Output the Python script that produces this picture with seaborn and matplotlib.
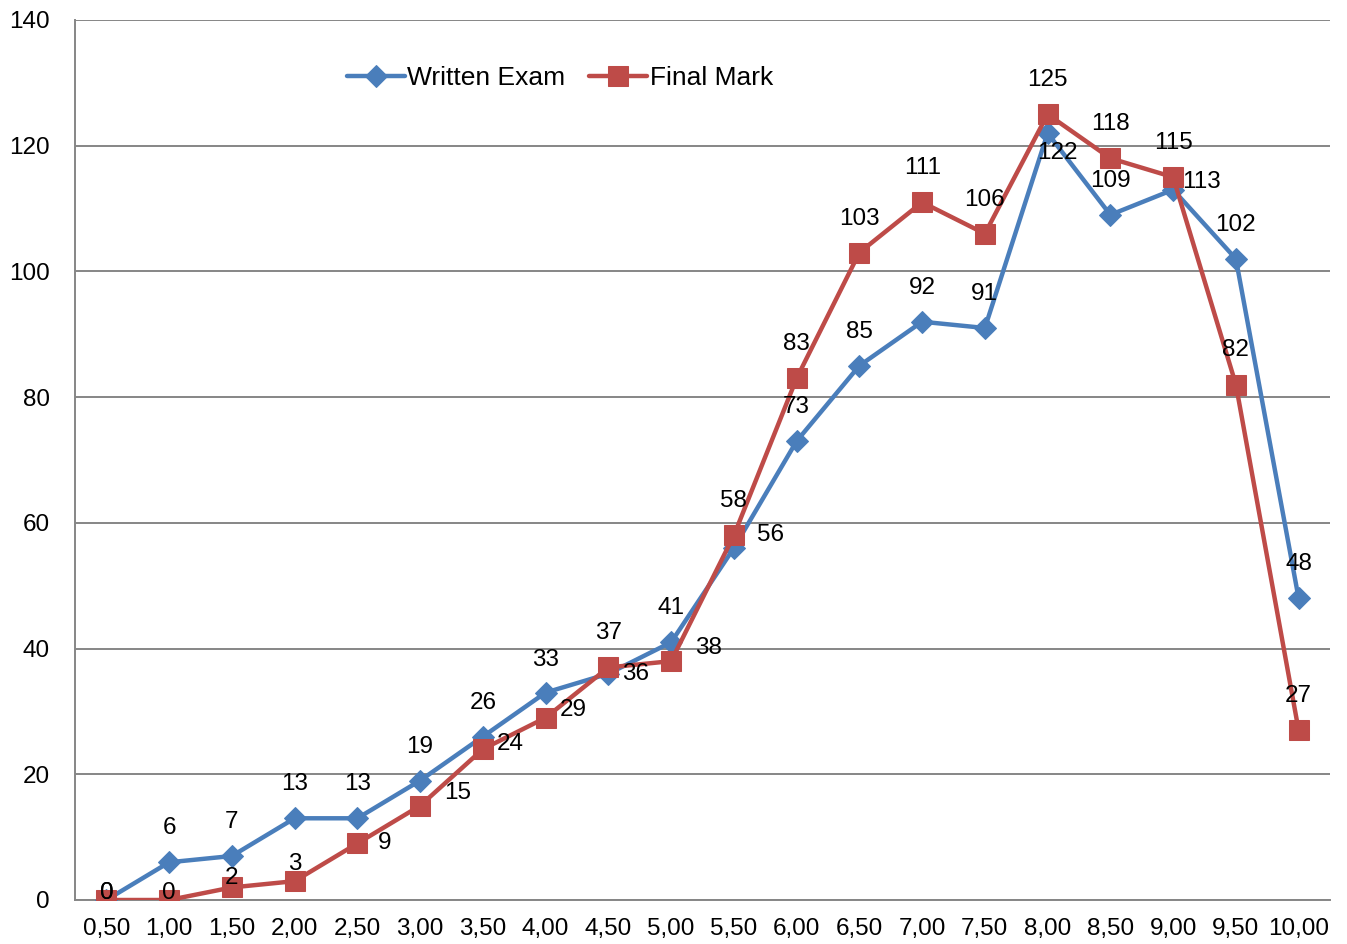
import matplotlib
matplotlib.use('Agg')
import matplotlib.pyplot as plt
import pandas as pd
import seaborn as sns

# ======== Data ========
marks = ['0,50', '1,00', '1,50', '2,00', '2,50', '3,00', '3,50', '4,00', '4,50', '5,00',
         '5,50', '6,00', '6,50', '7,00', '7,50', '8,00', '8,50', '9,00', '9,50', '10,00']
written_exam = [0, 6, 7, 13, 13, 19, 26, 33, 36, 41, 56, 73, 85, 92, 91, 122, 109, 113, 102, 48]
final_mark = [0, 0, 2, 3, 9, 15, 24, 29, 37, 38, 58, 83, 103, 111, 106, 125, 118, 115, 82, 27]

# label offsets in pixels (dx, dy), like the Excel original
off_written = [(0, 7), (0, 34), (0, 34), (0, 34), (0, 34), (0, 34), (0, 34), (0, 33), (27, 0), (0, 34),
               (37, 13), (0, 34), (0, 34), (0, 34), (0, 34), (10, -20), (0, 34), (28, 8), (0, 34), (0, 34)]
off_final = [(0, 7), (0, 7), (0, 9), (0, 17), (27, 0), (37, 13), (27, 5), (28, 8), (0, 34), (37, 13),
             (0, 34), (0, 34), (0, 34), (0, 34), (0, 34), (0, 34), (0, 34), (0, 34), (0, 35), (0, 34)]

BLUE = '#4A7EBB'
RED = '#BE4B48'
GRID = '#868686'
FS = 17.5

sns.set_style('white')
plt.rcParams['font.family'] = ['Liberation Sans', 'DejaVu Sans']
plt.rcParams['text.color'] = 'black'
plt.rcParams['xtick.labelcolor'] = 'black'
plt.rcParams['ytick.labelcolor'] = 'black'

df = pd.DataFrame({'pos': range(len(marks)), 'written': written_exam, 'final': final_mark})

fig = plt.figure(figsize=(13.47, 9.44), dpi=100)
ax = fig.add_axes([75 / 1347, 1 - 900 / 944, (1330 - 75) / 1347, 880 / 944])

sns.lineplot(data=df, x='pos', y='written', ax=ax, color=BLUE, linewidth=3.2,
             marker='D', markersize=11.5, markeredgecolor=BLUE, label='Written Exam', zorder=3)
sns.lineplot(data=df, x='pos', y='final', ax=ax, color=RED, linewidth=3.2,
             marker='s', markersize=14, markeredgecolor=RED, label='Final Mark', zorder=4)

for i, (v, o) in enumerate(zip(written_exam, off_written)):
    ax.annotate(str(v), (i, v), xytext=o, textcoords='offset pixels',
                ha='center', va='center', fontsize=FS, zorder=5)
for i, (v, o) in enumerate(zip(final_mark, off_final)):
    ax.annotate(str(v), (i, v), xytext=o, textcoords='offset pixels',
                ha='center', va='center', fontsize=FS, zorder=5)

# axes
ax.set_xlim(-0.5, len(marks) - 0.5)
ax.set_ylim(0, 140)
ax.set_yticks(range(0, 141, 20))
ax.set_xticks(range(len(marks)))
ax.set_xticklabels(marks)
ax.set_xticks([i - 0.5 for i in range(len(marks) + 1)], minor=True)
ax.tick_params(axis='x', which='major', length=0, labelsize=FS, pad=13)
ax.tick_params(axis='x', which='minor', length=8, width=1.3, color=GRID, direction='out')
ax.tick_params(axis='y', length=8, width=1.3, color=GRID, labelsize=FS, pad=10)
ax.set_xlabel('')
ax.set_ylabel('')

ax.yaxis.grid(True, color=GRID, linewidth=1.4)
ax.set_axisbelow(True)
for side in ['top', 'right']:
    ax.spines[side].set_visible(False)
for side in ['left', 'bottom']:
    ax.spines[side].set_color(GRID)
    ax.spines[side].set_linewidth(1.4)

ax.legend(loc='center', bbox_to_anchor=(560 / 1347, 1 - 78 / 944), bbox_transform=fig.transFigure,
          ncol=2, frameon=False, fontsize=19, handlelength=2.2, handletextpad=0.1,
          columnspacing=0.9)

fig.savefig('out.png', dpi=100)
